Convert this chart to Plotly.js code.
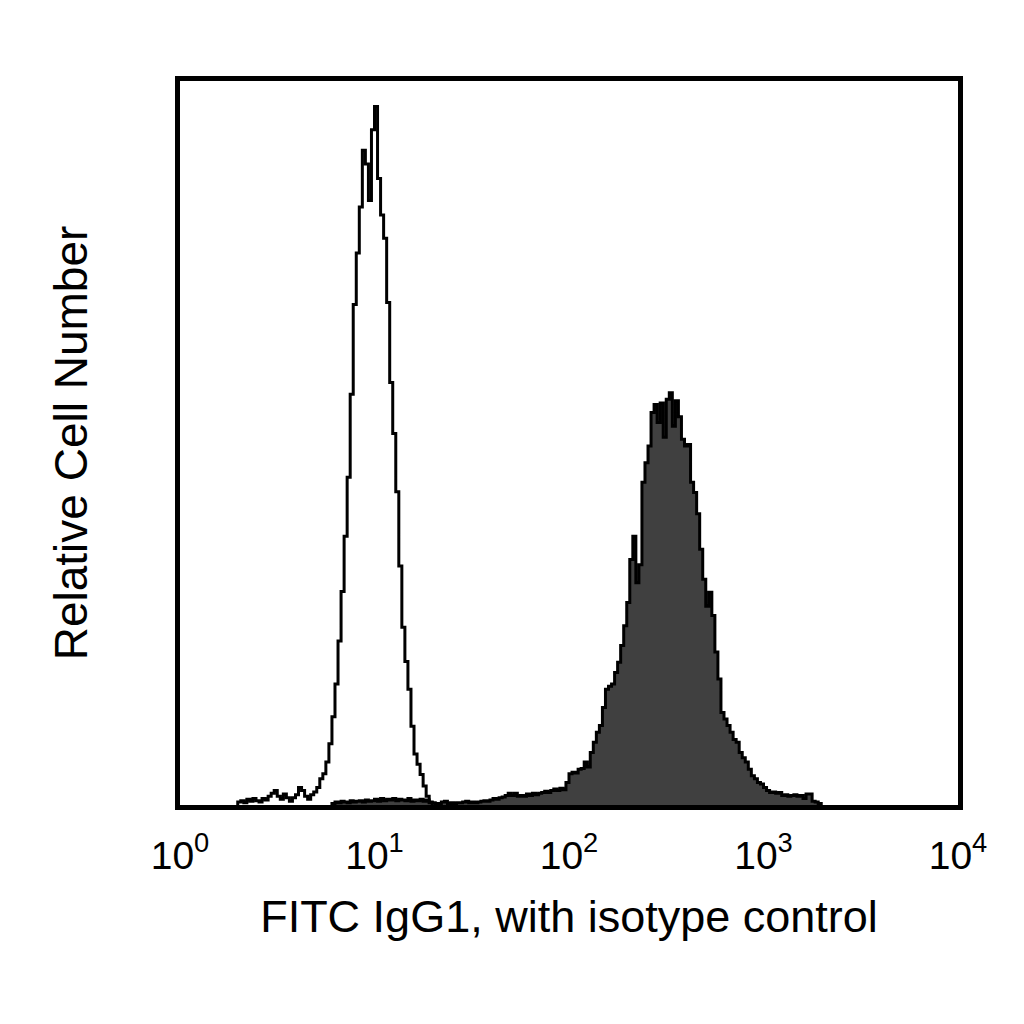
<!DOCTYPE html>
<html>
<head>
<meta charset="utf-8">
<script src="https://cdn.plot.ly/plotly-3.0.1.min.js"></script>
<style>html,body{margin:0;padding:0;background:#fff}</style>
</head>
<body>
<div id="chart" style="width:1024px;height:1024px"></div>
<script>
// 256 log channels spread over 4 decades
const channelsPerDecade = 64;

// isotype control (open histogram), counts from channel 19
const isotypeStart = 19;
const isotypeCounts = [
  0.4, 0.6, 0.3, 0.8, 0.5, 0.9, 0.6, 0.4, 0.9, 0.7,
  1.2, 1.6, 2.0, 1.2, 0.8, 1.5, 1.0, 0.5, 1.0, 1.4,
  2.4, 2.0, 1.2, 0.8, 1.4, 1.8, 2.4, 3.6, 4.3, 5.9,
  8.4, 12.1, 16.6, 22.5, 29.3, 36.9, 45.0, 56.4, 68.7, 75.8,
  82.1, 89.9, 88.0, 83.0, 92.7, 95.9, 86.0, 81.0, 77.8, 69.0,
  58.0, 51.0, 43.0, 32.8, 24.4, 19.7, 15.9, 10.8, 7.0, 5.6,
  4.2, 2.6, 1.2, 0.3
];

// FITC IgG1 stained (filled histogram), counts from channel 50
const stainedStart = 50;
const stainedCounts = [
  0.2, 0.4, 0.3, 0.5, 0.4, 0.3, 0.6, 0.4, 0.5, 0.6,
  0.4, 0.7, 0.5, 0.6, 0.8, 0.5, 0.9, 0.6, 0.8, 0.7,
  0.9, 0.6, 0.8, 0.7, 0.6, 0.9, 0.5, 0.7, 0.6, 0.8,
  0.5, 0.7, 0.4, 0.3, 0.2, 0.2, 0.4, 0.5, 0.2, 0.3,
  0.2, 0.3, 0.3, 0.4, 0.5, 0.3, 0.4, 0.3, 0.4, 0.5,
  0.6, 0.5, 0.7, 0.9, 0.8, 1.0, 1.1, 1.3, 1.6, 1.3,
  1.6, 1.2, 1.3, 1.2, 1.5, 1.3, 1.6, 1.4, 1.6, 1.7,
  1.9, 1.7, 2.0, 2.2, 2.0, 2.3, 2.1, 3.1, 4.3, 4.5,
  4.4, 4.9, 5.0, 5.9, 5.2, 7.2, 8.6, 10.0, 10.9, 13.4,
  15.9, 16.3, 16.6, 18.2, 19.6, 21.9, 24.6, 27.8, 33.7, 36.9,
  30.5, 33.0, 44.3, 47.0, 49.3, 53.9, 55.0, 52.5, 55.2, 50.5,
  55.7, 56.6, 52.0, 55.5, 53.3, 50.2, 49.3, 49.5, 44.3, 42.9,
  40.0, 35.1, 31.0, 27.3, 29.2, 26.0, 21.0, 17.3, 12.7, 11.8,
  10.9, 10.0, 9.0, 8.6, 7.2, 6.5, 5.9, 4.9, 4.0, 3.6,
  3.1, 2.9, 2.4, 2.0, 1.7, 1.8, 1.6, 1.7, 1.3, 1.4,
  1.2, 1.3, 1.4, 1.2, 1.3, 0.9, 1.5, 1.5, 0.5, 0.4,
  0.2
];

const tickVals = [1, 10, 100, 1000, 10000];
const tickText = ["10<sup>0</sup>", "10<sup>1</sup>", "10<sup>2</sup>", "10<sup>3</sup>", "10<sup>4</sup>"];

// turn channel counts into a step outline (left bin edges, closed at baseline)
function steps(start, counts) {
  const edge = ch => Math.pow(10, ch / channelsPerDecade);
  const x = [edge(start)], y = [0];
  counts.forEach((c, i) => {
    x.push(edge(start + i));
    y.push(c);
  });
  x.push(edge(start + counts.length));
  y.push(0);
  return { x, y };
}

const stained = steps(stainedStart, stainedCounts);
const isotype = steps(isotypeStart, isotypeCounts);

const font = "Liberation Sans, Arial, sans-serif";

const data = [
  {
    x: stained.x, y: stained.y, type: "scatter", mode: "lines",
    line: { shape: "hv", color: "#000", width: 3 },
    fill: "tozeroy", fillcolor: "#404040",
    hoverinfo: "skip", showlegend: false
  },
  {
    x: isotype.x, y: isotype.y, type: "scatter", mode: "lines",
    line: { shape: "hv", color: "#000", width: 3 },
    hoverinfo: "skip", showlegend: false
  }
];

const layout = {
  width: 1024, height: 1024,
  margin: { l: 180, r: 66, t: 81, b: 219 },
  paper_bgcolor: "#fff", plot_bgcolor: "#fff",
  font: { family: font, color: "#000" },
  xaxis: {
    type: "log", range: [0, 4],
    tickvals: tickVals, ticktext: tickText,
    ticks: "", ticklabelstandoff: 12,
    tickfont: { size: 39, family: font, color: "#000" },
    showline: true, linewidth: 5, linecolor: "#000", mirror: true,
    showgrid: false, zeroline: false,
    title: { text: "FITC IgG1, with isotype control", font: { size: 45, family: font, color: "#000" }, standoff: 26 }
  },
  yaxis: {
    range: [0, 99.4],
    showticklabels: false, ticks: "",
    showline: true, linewidth: 5, linecolor: "#000", mirror: true,
    showgrid: false, zeroline: false,
    title: { text: "Relative Cell Number", font: { size: 46, family: font, color: "#000" }, standoff: 74 }
  }
};

Plotly.newPlot("chart", data, layout, { displayModeBar: false, staticPlot: true });
</script>
</body>
</html>
